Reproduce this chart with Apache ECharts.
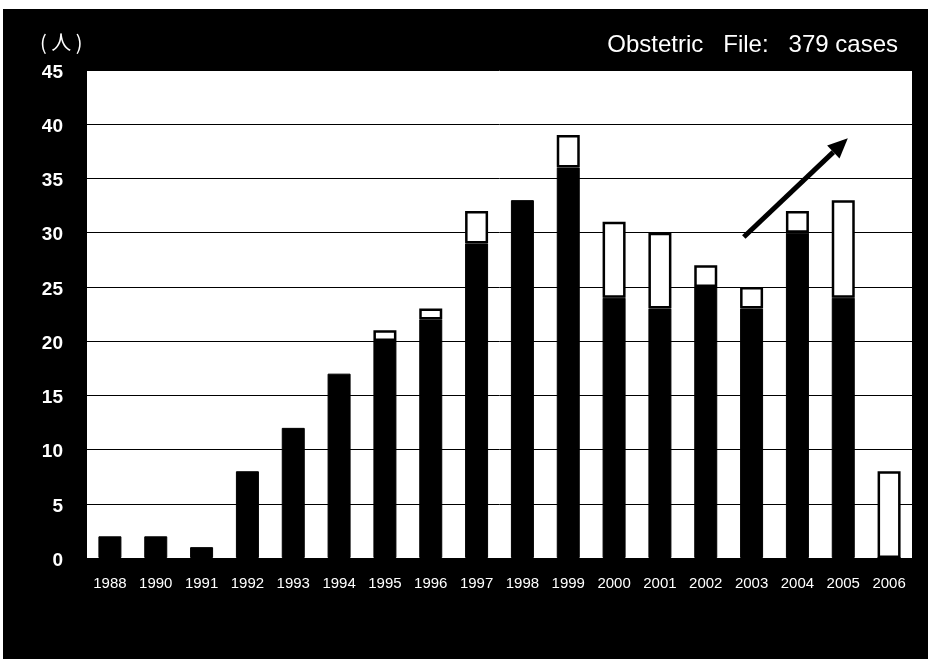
<!DOCTYPE html>
<html><head><meta charset="utf-8">
<script src="https://cdn.jsdelivr.net/npm/echarts@6/dist/echarts.min.js"></script>
<style>html,body{margin:0;padding:0;background:#fff}#c{width:930px;height:659px}</style>
</head><body><div id="c"></div>
<script>
const categories = ['1988','1990','1991','1992','1993','1994','1995','1996','1997','1998','1999','2000','2001','2002','2003','2004','2005','2006'];
const blackValues = [2,2,1,8,12,17,20,22,29,33,36,24,23,25,23,30,24,0];
const whiteValues = [0,0,0,0,0,0,1,1,3,0,3,7,7,2,2,2,9,8];
const yTicks = [0,5,10,15,20,25,30,35,40,45];
const titleText = 'Obstetric   File:   379 cases';
const unitText = '( 人 )';
// arrow annotation endpoints: [category index (fractional), value]
const arrowStart = [13.83, 29.6];
const arrowEnd = [16.1, 38.7];

const chart = echarts.init(document.getElementById('c'), null, {renderer:'canvas'});
const option = {
  backgroundColor: '#fff',
  animation: false,
  graphic: [
    {type:'rect', z:-10, shape:{x:3,y:9,width:925,height:650}, style:{fill:'#000'}},
    {type:'text', left:40, top:32, style:{text:unitText, fill:'#fff', font:'20px "Noto Sans CJK JP", sans-serif'}},
    {type:'text', right:32, top:33, style:{text:titleText, fill:'#fff', font:'24px "Liberation Sans", Arial, sans-serif'}}
  ],
  grid: {left:87, right:18, top:70, bottom:101, show:true, backgroundColor:'#fff', borderWidth:0},
  xAxis: {
    type:'category', data:categories,
    axisLine:{show:false}, axisTick:{show:false},
    axisLabel:{color:'#fff', fontSize:15, fontFamily:'"Liberation Sans", Arial, sans-serif', margin:18, interval:0}
  },
  yAxis: {
    type:'value', min:0, max:45, interval:5,
    axisLine:{show:false}, axisTick:{show:false},
    axisLabel:{color:'#fff', fontSize:19, fontWeight:'bold', fontFamily:'"Liberation Sans", Arial, sans-serif', margin:24,
      formatter: v => yTicks.includes(v) ? String(v) : '', verticalAlign:'top', padding:[-7,0,0,0]},
    splitLine:{lineStyle:{color:'#000', width:1}}
  },
  series: [
    {type:'bar', stack:'a', data:blackValues, barWidth:23,
     itemStyle:{color:'#000', borderColor:'#000', borderWidth:1}},
    {type:'bar', stack:'a', data:whiteValues.map(v => v === 0 ? null : v), barWidth:23,
     itemStyle:{color:'#fff', borderColor:'#000', borderWidth:2.5}}
  ]
};
chart.setOption(option);

function toPx(p){
  const a = chart.convertToPixel({xAxisIndex:0}, 0);
  const b = chart.convertToPixel({xAxisIndex:0}, 1);
  const x = a + (b - a) * p[0];
  const y = chart.convertToPixel({yAxisIndex:0}, p[1]);
  return [x, y];
}
const s = toPx(arrowStart), e = toPx(arrowEnd);
const ang = Math.atan2(e[1]-s[1], e[0]-s[0]);
const L = 20, W = 9;
const base = [e[0]-L*Math.cos(ang), e[1]-L*Math.sin(ang)];
const left = [base[0]+W*Math.sin(ang), base[1]-W*Math.cos(ang)];
const right = [base[0]-W*Math.sin(ang), base[1]+W*Math.cos(ang)];
chart.setOption({graphic: option.graphic.concat([
  {type:'line', z:100, shape:{x1:s[0], y1:s[1], x2:base[0], y2:base[1]}, style:{stroke:'#000', lineWidth:5}},
  {type:'polygon', z:100, shape:{points:[e, left, right]}, style:{fill:'#000'}}
])});
</script></body></html>
